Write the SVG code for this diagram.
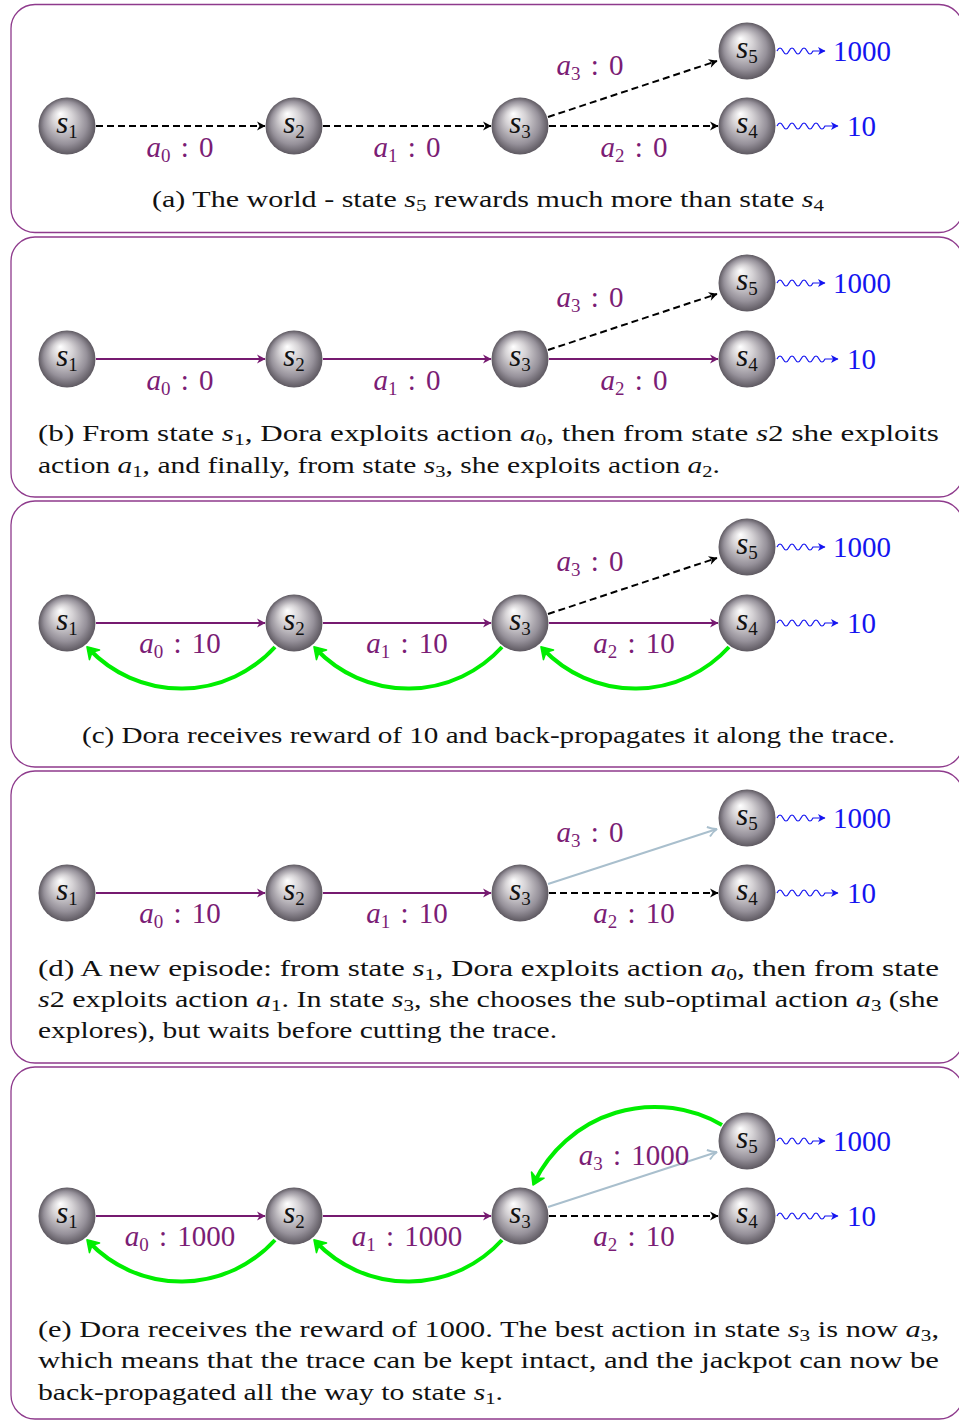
<svg xmlns="http://www.w3.org/2000/svg" width="959" height="1420" viewBox="0 0 959 1420">
<defs>
<radialGradient id="ball" cx="50%" cy="50%" r="50%" fx="38%" fy="28%">
<stop offset="0" stop-color="#ffffff"/>
<stop offset="0.35" stop-color="#d6d3d6"/>
<stop offset="0.75" stop-color="#96919a"/>
<stop offset="1" stop-color="#5e5961"/>
</radialGradient>
<marker id="hb" markerUnits="userSpaceOnUse" markerWidth="12" markerHeight="12" viewBox="-10 -6 12 12" refX="0" refY="0" orient="auto"><path d="M0.5,0 L-8,-4.5 L-5.5,0 L-8,4.5 z" fill="#000"/></marker>
<marker id="hp" markerUnits="userSpaceOnUse" markerWidth="12" markerHeight="12" viewBox="-10 -6 12 12" refX="0" refY="0" orient="auto"><path d="M0.5,0 L-8,-4.5 L-5.5,0 L-8,4.5 z" fill="#761a70"/></marker>
<marker id="hl" markerUnits="userSpaceOnUse" markerWidth="14" markerHeight="14" viewBox="-12 -7 14 14" refX="0" refY="0" orient="auto"><path d="M-9,-5 Q-4,-1 0,0 Q-4,1 -9,5" fill="none" stroke="#a9bfcd" stroke-width="2"/></marker>
<marker id="hg" markerUnits="userSpaceOnUse" markerWidth="20" markerHeight="20" viewBox="-12 -10 20 20" refX="0" refY="0" orient="auto"><path d="M3,0 L-8,-7 L-4.5,0 L-8,7 z" fill="#00ee00" stroke="#00ee00" stroke-width="1.5" stroke-linejoin="round"/></marker>
<marker id="hw" markerUnits="userSpaceOnUse" markerWidth="12" markerHeight="12" viewBox="-10 -6 12 12" refX="0" refY="0" orient="auto"><path d="M0.5,0 L-7,-4 L-5,0 L-7,4 z" fill="#1414f0"/></marker>
</defs>
<style>
.panel{fill:none;stroke:#8e3a8c;stroke-width:1.3}
.ball{fill:url(#ball)}
text{font-family:"Liberation Serif","Times New Roman",serif}
.nl{font-size:31px;fill:#111}
.el{font-size:29px;fill:#7b1d75}
.cap{font-size:23px;fill:#111}
.rw{font-size:29px;fill:#1414f0}
.i{font-style:italic}
.sb{font-size:19px}
.cs{font-size:16px}
.dash{stroke:#000;stroke-width:2;stroke-dasharray:7 4;fill:none;marker-end:url(#hb)}
.pur{stroke:#761a70;stroke-width:2;fill:none;marker-end:url(#hp)}
.lb{stroke:#a9bfcd;stroke-width:2;fill:none;marker-end:url(#hl)}
.grn{stroke:#00ee00;stroke-width:4;fill:none;marker-end:url(#hg)}
.wave{stroke:#1414f0;stroke-width:1.2;fill:none;marker-end:url(#hw)}
</style>
<rect width="959" height="1420" fill="#fff"/>

<!-- Panel frames -->
<g id="frames">
<rect class="panel" x="11" y="4.5" width="952" height="228" rx="24"/>
<rect class="panel" x="11" y="237" width="952" height="260" rx="24"/>
<rect class="panel" x="11" y="501" width="952" height="266" rx="24"/>
<rect class="panel" x="11" y="771" width="952" height="292" rx="24"/>
<rect class="panel" x="11" y="1067" width="952" height="352" rx="24"/>
</g>

<!-- ===== Panel a ===== -->
<g id="panel-a">
<g id="a-connectors">
<line class="dash" x1="96" y1="126" x2="265" y2="126"/>
<line class="dash" x1="323" y1="126" x2="491" y2="126"/>
<line class="dash" x1="549" y1="126" x2="718" y2="126"/>
<line class="dash" x1="548" y1="117" x2="717" y2="61"/>
<path class="wave" d="M777,51 q3,-6 6,0 t6,0 t6,0 t6,0 t6,0 t6,0 L825,51"/>
<path class="wave" d="M777,126 q3,-6 6,0 t6,0 t6,0 t6,0 t6,0 t6,0 t6,0 t6,0 L838,126"/>
<text class="el" x="180" y="157" text-anchor="middle"><tspan class="i">a</tspan><tspan class="sb" dy="5">0</tspan><tspan dy="-5" word-spacing="3"> : 0</tspan></text>
<text class="el" x="407" y="157" text-anchor="middle"><tspan class="i">a</tspan><tspan class="sb" dy="5">1</tspan><tspan dy="-5" word-spacing="3"> : 0</tspan></text>
<text class="el" x="634" y="157" text-anchor="middle"><tspan class="i">a</tspan><tspan class="sb" dy="5">2</tspan><tspan dy="-5" word-spacing="3"> : 0</tspan></text>
<text class="el" x="590" y="75" text-anchor="middle"><tspan class="i">a</tspan><tspan class="sb" dy="5">3</tspan><tspan dy="-5" word-spacing="3"> : 0</tspan></text>
<text class="rw" x="833" y="61">1000</text>
<text class="rw" x="847" y="136">10</text>
</g>
<g id="a-s1"><circle class="ball" cx="67" cy="126" r="28.5"/><text class="nl" x="67" y="133" text-anchor="middle"><tspan class="i">s</tspan><tspan class="sb" dy="5">1</tspan></text></g>
<g id="a-s2"><circle class="ball" cx="294" cy="126" r="28.5"/><text class="nl" x="294" y="133" text-anchor="middle"><tspan class="i">s</tspan><tspan class="sb" dy="5">2</tspan></text></g>
<g id="a-s3"><circle class="ball" cx="520" cy="126" r="28.5"/><text class="nl" x="520" y="133" text-anchor="middle"><tspan class="i">s</tspan><tspan class="sb" dy="5">3</tspan></text></g>
<g id="a-s4"><circle class="ball" cx="747" cy="126" r="28.5"/><text class="nl" x="747" y="133" text-anchor="middle"><tspan class="i">s</tspan><tspan class="sb" dy="5">4</tspan></text></g>
<g id="a-s5"><circle class="ball" cx="747" cy="51" r="28.5"/><text class="nl" x="747" y="58" text-anchor="middle"><tspan class="i">s</tspan><tspan class="sb" dy="5">5</tspan></text></g>
<text class="cap" x="152" y="207" textLength="672" lengthAdjust="spacingAndGlyphs">(a) The world - state <tspan class="i">s</tspan><tspan class="cs" dy="4">5</tspan><tspan dy="-4"> rewards much more than state </tspan><tspan class="i">s</tspan><tspan class="cs" dy="4">4</tspan></text>
</g>

<!-- ===== Panel b ===== -->
<g id="panel-b">
<g id="b-connectors">
<line class="pur" x1="96" y1="359" x2="265" y2="359"/>
<line class="pur" x1="323" y1="359" x2="491" y2="359"/>
<line class="pur" x1="549" y1="359" x2="718" y2="359"/>
<line class="dash" x1="548" y1="350" x2="717" y2="294"/>
<path class="wave" d="M777,283 q3,-6 6,0 t6,0 t6,0 t6,0 t6,0 t6,0 L825,283"/>
<path class="wave" d="M777,359 q3,-6 6,0 t6,0 t6,0 t6,0 t6,0 t6,0 t6,0 t6,0 L838,359"/>
<text class="el" x="180" y="390" text-anchor="middle"><tspan class="i">a</tspan><tspan class="sb" dy="5">0</tspan><tspan dy="-5" word-spacing="3"> : 0</tspan></text>
<text class="el" x="407" y="390" text-anchor="middle"><tspan class="i">a</tspan><tspan class="sb" dy="5">1</tspan><tspan dy="-5" word-spacing="3"> : 0</tspan></text>
<text class="el" x="634" y="390" text-anchor="middle"><tspan class="i">a</tspan><tspan class="sb" dy="5">2</tspan><tspan dy="-5" word-spacing="3"> : 0</tspan></text>
<text class="el" x="590" y="307" text-anchor="middle"><tspan class="i">a</tspan><tspan class="sb" dy="5">3</tspan><tspan dy="-5" word-spacing="3"> : 0</tspan></text>
<text class="rw" x="833" y="293">1000</text>
<text class="rw" x="847" y="369">10</text>
</g>
<g id="b-s1"><circle class="ball" cx="67" cy="359" r="28.5"/><text class="nl" x="67" y="366" text-anchor="middle"><tspan class="i">s</tspan><tspan class="sb" dy="5">1</tspan></text></g>
<g id="b-s2"><circle class="ball" cx="294" cy="359" r="28.5"/><text class="nl" x="294" y="366" text-anchor="middle"><tspan class="i">s</tspan><tspan class="sb" dy="5">2</tspan></text></g>
<g id="b-s3"><circle class="ball" cx="520" cy="359" r="28.5"/><text class="nl" x="520" y="366" text-anchor="middle"><tspan class="i">s</tspan><tspan class="sb" dy="5">3</tspan></text></g>
<g id="b-s4"><circle class="ball" cx="747" cy="359" r="28.5"/><text class="nl" x="747" y="366" text-anchor="middle"><tspan class="i">s</tspan><tspan class="sb" dy="5">4</tspan></text></g>
<g id="b-s5"><circle class="ball" cx="747" cy="283" r="28.5"/><text class="nl" x="747" y="290" text-anchor="middle"><tspan class="i">s</tspan><tspan class="sb" dy="5">5</tspan></text></g>
<text class="cap" x="38" y="441" textLength="901" lengthAdjust="spacingAndGlyphs">(b) From state <tspan class="i">s</tspan><tspan class="cs" dy="4">1</tspan><tspan dy="-4">, Dora exploits action </tspan><tspan class="i">a</tspan><tspan class="cs" dy="4">0</tspan><tspan dy="-4">, then from state </tspan><tspan class="i">s</tspan>2 she exploits</text>
<text class="cap" x="38" y="473" textLength="682" lengthAdjust="spacingAndGlyphs">action <tspan class="i">a</tspan><tspan class="cs" dy="4">1</tspan><tspan dy="-4">, and finally, from state </tspan><tspan class="i">s</tspan><tspan class="cs" dy="4">3</tspan><tspan dy="-4">, she exploits action </tspan><tspan class="i">a</tspan><tspan class="cs" dy="4">2</tspan><tspan dy="-4">.</tspan></text>
</g>

<!-- ===== Panel c ===== -->
<g id="panel-c">
<g id="c-connectors">
<line class="pur" x1="96" y1="623" x2="265" y2="623"/>
<line class="pur" x1="323" y1="623" x2="491" y2="623"/>
<line class="pur" x1="549" y1="623" x2="718" y2="623"/>
<line class="dash" x1="548" y1="614" x2="717" y2="558"/>
<path class="grn" d="M275,647 A127,127 0 0 1 89,649"/>
<path class="grn" d="M502,647 A127,127 0 0 1 316,649"/>
<path class="grn" d="M729,647 A127,127 0 0 1 543,649"/>
<path class="wave" d="M777,547 q3,-6 6,0 t6,0 t6,0 t6,0 t6,0 t6,0 L825,547"/>
<path class="wave" d="M777,623 q3,-6 6,0 t6,0 t6,0 t6,0 t6,0 t6,0 t6,0 t6,0 L838,623"/>
<text class="el" x="180" y="653" text-anchor="middle"><tspan class="i">a</tspan><tspan class="sb" dy="5">0</tspan><tspan dy="-5" word-spacing="3"> : 10</tspan></text>
<text class="el" x="407" y="653" text-anchor="middle"><tspan class="i">a</tspan><tspan class="sb" dy="5">1</tspan><tspan dy="-5" word-spacing="3"> : 10</tspan></text>
<text class="el" x="634" y="653" text-anchor="middle"><tspan class="i">a</tspan><tspan class="sb" dy="5">2</tspan><tspan dy="-5" word-spacing="3"> : 10</tspan></text>
<text class="el" x="590" y="571" text-anchor="middle"><tspan class="i">a</tspan><tspan class="sb" dy="5">3</tspan><tspan dy="-5" word-spacing="3"> : 0</tspan></text>
<text class="rw" x="833" y="557">1000</text>
<text class="rw" x="847" y="633">10</text>
</g>
<g id="c-s1"><circle class="ball" cx="67" cy="623" r="28.5"/><text class="nl" x="67" y="630" text-anchor="middle"><tspan class="i">s</tspan><tspan class="sb" dy="5">1</tspan></text></g>
<g id="c-s2"><circle class="ball" cx="294" cy="623" r="28.5"/><text class="nl" x="294" y="630" text-anchor="middle"><tspan class="i">s</tspan><tspan class="sb" dy="5">2</tspan></text></g>
<g id="c-s3"><circle class="ball" cx="520" cy="623" r="28.5"/><text class="nl" x="520" y="630" text-anchor="middle"><tspan class="i">s</tspan><tspan class="sb" dy="5">3</tspan></text></g>
<g id="c-s4"><circle class="ball" cx="747" cy="623" r="28.5"/><text class="nl" x="747" y="630" text-anchor="middle"><tspan class="i">s</tspan><tspan class="sb" dy="5">4</tspan></text></g>
<g id="c-s5"><circle class="ball" cx="747" cy="547" r="28.5"/><text class="nl" x="747" y="554" text-anchor="middle"><tspan class="i">s</tspan><tspan class="sb" dy="5">5</tspan></text></g>
<text class="cap" x="82" y="743" textLength="813" lengthAdjust="spacingAndGlyphs">(c) Dora receives reward of 10 and back-propagates it along the trace.</text>
</g>

<!-- ===== Panel d ===== -->
<g id="panel-d">
<g id="d-connectors">
<line class="pur" x1="96" y1="893" x2="265" y2="893"/>
<line class="pur" x1="323" y1="893" x2="491" y2="893"/>
<line class="lb" x1="548" y1="884" x2="717" y2="829"/>
<line class="dash" x1="549" y1="893" x2="718" y2="893"/>
<path class="wave" d="M777,818 q3,-6 6,0 t6,0 t6,0 t6,0 t6,0 t6,0 L825,818"/>
<path class="wave" d="M777,893 q3,-6 6,0 t6,0 t6,0 t6,0 t6,0 t6,0 t6,0 t6,0 L838,893"/>
<text class="el" x="180" y="923" text-anchor="middle"><tspan class="i">a</tspan><tspan class="sb" dy="5">0</tspan><tspan dy="-5" word-spacing="3"> : 10</tspan></text>
<text class="el" x="407" y="923" text-anchor="middle"><tspan class="i">a</tspan><tspan class="sb" dy="5">1</tspan><tspan dy="-5" word-spacing="3"> : 10</tspan></text>
<text class="el" x="634" y="923" text-anchor="middle"><tspan class="i">a</tspan><tspan class="sb" dy="5">2</tspan><tspan dy="-5" word-spacing="3"> : 10</tspan></text>
<text class="el" x="590" y="842" text-anchor="middle"><tspan class="i">a</tspan><tspan class="sb" dy="5">3</tspan><tspan dy="-5" word-spacing="3"> : 0</tspan></text>
<text class="rw" x="833" y="828">1000</text>
<text class="rw" x="847" y="903">10</text>
</g>
<g id="d-s1"><circle class="ball" cx="67" cy="893" r="28.5"/><text class="nl" x="67" y="900" text-anchor="middle"><tspan class="i">s</tspan><tspan class="sb" dy="5">1</tspan></text></g>
<g id="d-s2"><circle class="ball" cx="294" cy="893" r="28.5"/><text class="nl" x="294" y="900" text-anchor="middle"><tspan class="i">s</tspan><tspan class="sb" dy="5">2</tspan></text></g>
<g id="d-s3"><circle class="ball" cx="520" cy="893" r="28.5"/><text class="nl" x="520" y="900" text-anchor="middle"><tspan class="i">s</tspan><tspan class="sb" dy="5">3</tspan></text></g>
<g id="d-s4"><circle class="ball" cx="747" cy="893" r="28.5"/><text class="nl" x="747" y="900" text-anchor="middle"><tspan class="i">s</tspan><tspan class="sb" dy="5">4</tspan></text></g>
<g id="d-s5"><circle class="ball" cx="747" cy="818" r="28.5"/><text class="nl" x="747" y="825" text-anchor="middle"><tspan class="i">s</tspan><tspan class="sb" dy="5">5</tspan></text></g>
<text class="cap" x="38" y="976" textLength="901" lengthAdjust="spacingAndGlyphs">(d) A new episode: from state <tspan class="i">s</tspan><tspan class="cs" dy="4">1</tspan><tspan dy="-4">, Dora exploits action </tspan><tspan class="i">a</tspan><tspan class="cs" dy="4">0</tspan><tspan dy="-4">, then from state</tspan></text>
<text class="cap" x="38" y="1007" textLength="901" lengthAdjust="spacingAndGlyphs"><tspan class="i">s</tspan>2 exploits action <tspan class="i">a</tspan><tspan class="cs" dy="4">1</tspan><tspan dy="-4">. In state </tspan><tspan class="i">s</tspan><tspan class="cs" dy="4">3</tspan><tspan dy="-4">, she chooses the sub-optimal action </tspan><tspan class="i">a</tspan><tspan class="cs" dy="4">3</tspan><tspan dy="-4"> (she</tspan></text>
<text class="cap" x="38" y="1038" textLength="519" lengthAdjust="spacingAndGlyphs">explores), but waits before cutting the trace.</text>
</g>

<!-- ===== Panel e ===== -->
<g id="panel-e">
<g id="e-connectors">
<line class="pur" x1="96" y1="1216" x2="265" y2="1216"/>
<line class="pur" x1="323" y1="1216" x2="491" y2="1216"/>
<line class="lb" x1="548" y1="1207" x2="717" y2="1152"/>
<line class="dash" x1="549" y1="1216" x2="718" y2="1216"/>
<path class="grn" d="M275,1240 A127,127 0 0 1 89,1242"/>
<path class="grn" d="M502,1240 A127,127 0 0 1 316,1242"/>
<path class="grn" d="M722,1125 A134,134 0 0 0 534.3,1182.3"/>
<path class="wave" d="M777,1141 q3,-6 6,0 t6,0 t6,0 t6,0 t6,0 t6,0 L825,1141"/>
<path class="wave" d="M777,1216 q3,-6 6,0 t6,0 t6,0 t6,0 t6,0 t6,0 t6,0 t6,0 L838,1216"/>
<text class="el" x="180" y="1246" text-anchor="middle"><tspan class="i">a</tspan><tspan class="sb" dy="5">0</tspan><tspan dy="-5" word-spacing="3"> : 1000</tspan></text>
<text class="el" x="407" y="1246" text-anchor="middle"><tspan class="i">a</tspan><tspan class="sb" dy="5">1</tspan><tspan dy="-5" word-spacing="3"> : 1000</tspan></text>
<text class="el" x="634" y="1246" text-anchor="middle"><tspan class="i">a</tspan><tspan class="sb" dy="5">2</tspan><tspan dy="-5" word-spacing="3"> : 10</tspan></text>
<text class="el" x="634" y="1165" text-anchor="middle"><tspan class="i">a</tspan><tspan class="sb" dy="5">3</tspan><tspan dy="-5" word-spacing="3"> : 1000</tspan></text>
<text class="rw" x="833" y="1151">1000</text>
<text class="rw" x="847" y="1226">10</text>
</g>
<g id="e-s1"><circle class="ball" cx="67" cy="1216" r="28.5"/><text class="nl" x="67" y="1223" text-anchor="middle"><tspan class="i">s</tspan><tspan class="sb" dy="5">1</tspan></text></g>
<g id="e-s2"><circle class="ball" cx="294" cy="1216" r="28.5"/><text class="nl" x="294" y="1223" text-anchor="middle"><tspan class="i">s</tspan><tspan class="sb" dy="5">2</tspan></text></g>
<g id="e-s3"><circle class="ball" cx="520" cy="1216" r="28.5"/><text class="nl" x="520" y="1223" text-anchor="middle"><tspan class="i">s</tspan><tspan class="sb" dy="5">3</tspan></text></g>
<g id="e-s4"><circle class="ball" cx="747" cy="1216" r="28.5"/><text class="nl" x="747" y="1223" text-anchor="middle"><tspan class="i">s</tspan><tspan class="sb" dy="5">4</tspan></text></g>
<g id="e-s5"><circle class="ball" cx="747" cy="1141" r="28.5"/><text class="nl" x="747" y="1148" text-anchor="middle"><tspan class="i">s</tspan><tspan class="sb" dy="5">5</tspan></text></g>
<text class="cap" x="38" y="1337" textLength="901" lengthAdjust="spacingAndGlyphs">(e) Dora receives the reward of 1000. The best action in state <tspan class="i">s</tspan><tspan class="cs" dy="4">3</tspan><tspan dy="-4"> is now </tspan><tspan class="i">a</tspan><tspan class="cs" dy="4">3</tspan><tspan dy="-4">,</tspan></text>
<text class="cap" x="38" y="1368" textLength="901" lengthAdjust="spacingAndGlyphs">which means that the trace can be kept intact, and the jackpot can now be</text>
<text class="cap" x="38" y="1400" textLength="465" lengthAdjust="spacingAndGlyphs">back-propagated all the way to state <tspan class="i">s</tspan><tspan class="cs" dy="4">1</tspan><tspan dy="-4">.</tspan></text>
</g>
</svg>
